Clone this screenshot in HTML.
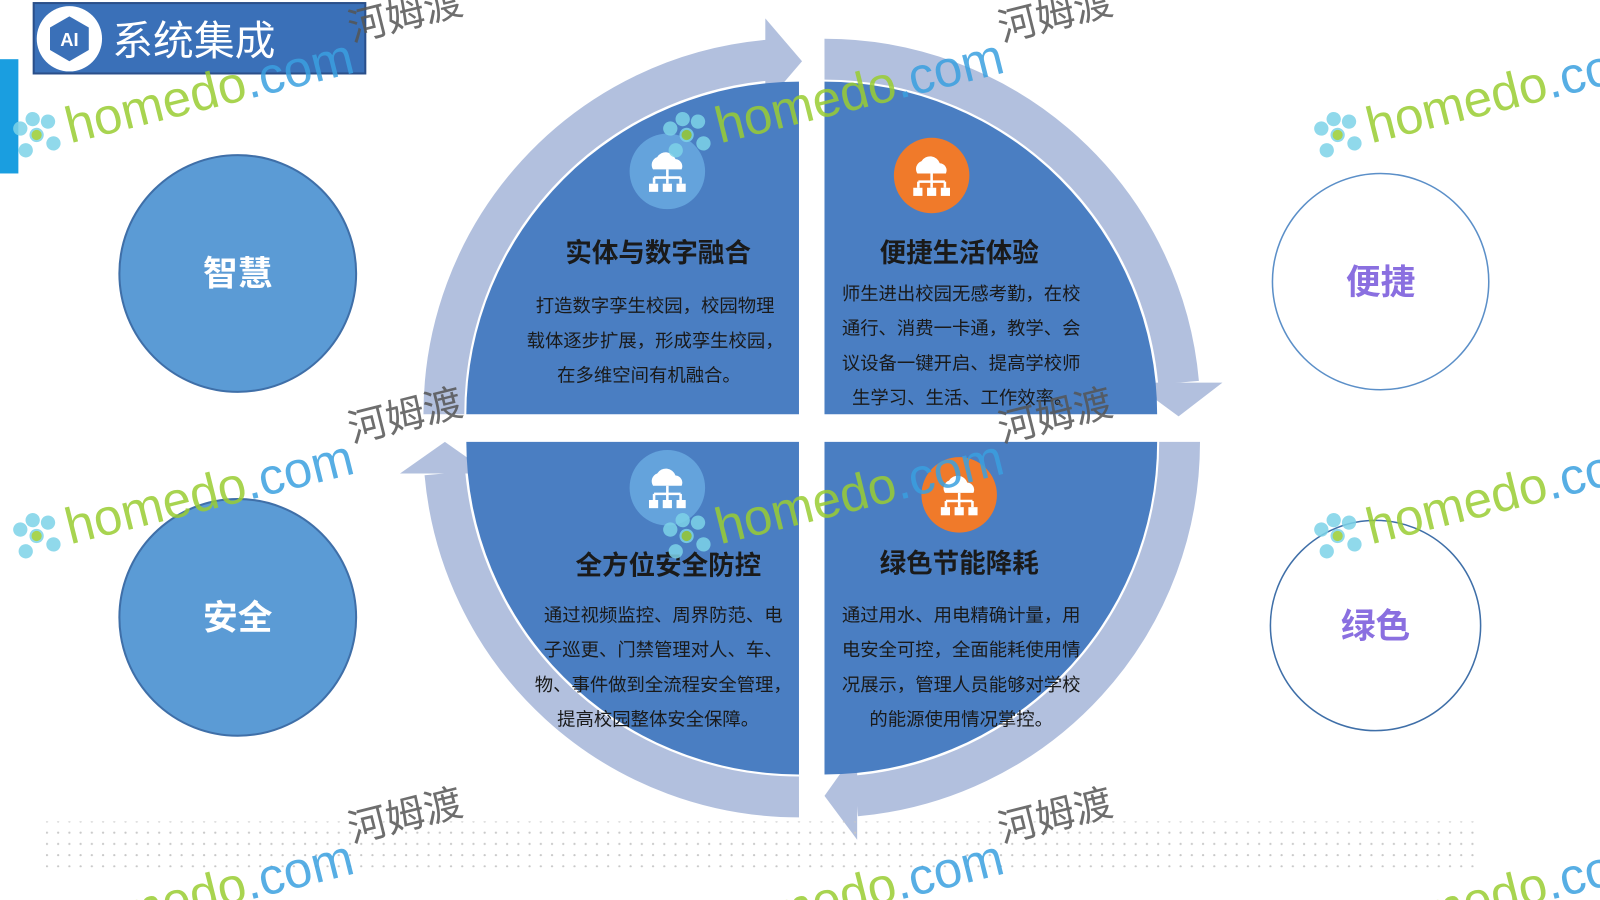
<!DOCTYPE html>
<html><head><meta charset="utf-8"><style>
html,body{margin:0;padding:0;background:#fff;width:1600px;height:900px;overflow:hidden;}
svg{display:block;}
text{font-family:"Liberation Sans","Noto Sans CJK SC",sans-serif;}
</style></head><body>
<svg width="1600" height="900" viewBox="0 0 1568 882" preserveAspectRatio="none" xmlns="http://www.w3.org/2000/svg">
<defs>
<pattern id="dots" x="0" y="0" width="11" height="11" patternUnits="userSpaceOnUse"><circle cx="2" cy="2" r="1.1" fill="#c8c8c8"/></pattern>
<g id="icon">
<path d="M-14,-2 a8,8 0 0 1 4,-12 a10,10 0 0 1 18,2 a7,7 0 0 1 6,10 z" fill="#fff"/>
<path d="M0,-2 v8 M-13,6 h26 M-13,6 v6 M0,6 v6 M13,6 v6" stroke="#fff" stroke-width="2.5" fill="none"/>
<rect x="-18" y="12" width="9" height="8" fill="#fff"/><rect x="-4.5" y="12" width="9" height="8" fill="#fff"/><rect x="9" y="12" width="9" height="8" fill="#fff"/>
</g>
<g id="wm" opacity="0.85">
<g fill="#7dd3e8"><circle cx="-30" cy="0" r="7"/><circle cx="-16" cy="-10" r="7"/><circle cx="-44" cy="-10" r="7"/><circle cx="-16" cy="12" r="7"/><circle cx="-44" cy="12" r="7"/><circle cx="-30" cy="-16" r="7"/></g>
<circle cx="-30" cy="0" r="5" fill="#9acd32"/>
<text x="0" y="16" font-size="50"><tspan fill="#9acd32">homedo</tspan><tspan fill="#3aa0e0">.com</tspan></text>
<text x="292" y="-14" font-size="38" fill="#555">河姆渡</text>
</g>
</defs>
<rect x="0" y="58" width="18" height="112" fill="#1a9ee0"/>
<rect x="33" y="3" width="325" height="69" fill="#3a70b8" stroke="#2a4f8a" stroke-width="2"/>
<circle cx="68" cy="38" r="32" fill="#fff"/>
<polygon points="68,16 87,27 87,49 68,60 49,49 49,27" fill="#3a70b8"/>
<text x="68" y="45" font-size="18" font-weight="bold" fill="#fff" text-anchor="middle">AI</text>
<text x="110" y="54" font-size="40" fill="#fff">系统集成</text>

<circle cx="233" cy="268" r="116" fill="#5b9bd5" stroke="#3f6fa8" stroke-width="2"/>
<text x="233" y="280" font-size="34" font-weight="bold" fill="#fff" text-anchor="middle">智慧</text>
<circle cx="233" cy="605" r="116" fill="#5b9bd5" stroke="#3f6fa8" stroke-width="2"/>
<text x="233" y="617" font-size="34" font-weight="bold" fill="#fff" text-anchor="middle">安全</text>
<circle cx="1353" cy="276" r="106" fill="#fff" stroke="#5b8fc8" stroke-width="1.5"/>
<text x="1353" y="288" font-size="34" font-weight="bold" fill="#8a6fe0" text-anchor="middle">便捷</text>
<circle cx="1348" cy="613" r="103" fill="#fff" stroke="#3f6fa8" stroke-width="1.5"/>
<text x="1348" y="625" font-size="34" font-weight="bold" fill="#8a6fe0" text-anchor="middle">绿色</text>

<g fill="none" stroke="#b2c0de" stroke-width="40">
<path d="M435,406 A348,348 0 0 1 752,59"/>
<path d="M808,58 A348,348 0 0 1 1155,375"/>
<path d="M1156,433 A348,348 0 0 1 839,780"/>
<path d="M783,781 A348,348 0 0 1 436,464"/>
</g>
<g fill="#b2c0de">
<polygon points="750,18 786,60 750,102"/>
<polygon points="1110,375 1198,375 1155,408"/>
<polygon points="840,735 840,823 808,780"/>
<polygon points="392,464 480,464 436,433"/>
</g>
<g fill="#4a7ec2">
<path d="M783,406 L457,406 A326,326 0 0 1 783,80 Z"/>
<path d="M808,406 L808,80 A326,326 0 0 1 1134,406 Z"/>
<path d="M808,433 L1134,433 A326,326 0 0 1 808,759 Z"/>
<path d="M783,433 L783,759 A326,326 0 0 1 457,433 Z"/>
</g>
<circle cx="654" cy="168" r="37" fill="#64a3dc"/><use href="#icon" x="654" y="168"/>
<circle cx="913" cy="172" r="37" fill="#f07a2a"/><use href="#icon" x="913" y="172"/>
<circle cx="654" cy="478" r="37" fill="#64a3dc"/><use href="#icon" x="654" y="478"/>
<circle cx="940" cy="485" r="37" fill="#f07a2a"/><use href="#icon" x="940" y="485"/>

<g fill="#1a1a1a">
<text x="645" y="257" font-size="26" font-weight="bold" text-anchor="middle">实体与数字融合</text>
<g font-size="18" text-anchor="middle">
<text x="642" y="306">打造数字孪生校园，校园物理</text>
<text x="642" y="340">载体逐步扩展，形成孪生校园，</text>
<text x="636" y="374">在多维空间有机融合。</text>
</g>
<text x="940" y="257" font-size="26" font-weight="bold" text-anchor="middle">便捷生活体验</text>
<g font-size="18">
<text x="825" y="294">师生进出校园无感考勤，在校</text>
<text x="825" y="328">通行、消费一卡通，教学、会</text>
<text x="825" y="362">议设备一键开启、提高学校师</text>
<text x="835" y="396">生学习、生活、工作效率。</text>
</g>
<text x="655" y="563" font-size="26" font-weight="bold" text-anchor="middle">全方位安全防控</text>
<g font-size="18" text-anchor="middle">
<text x="650" y="609">通过视频监控、周界防范、电</text>
<text x="650" y="643">子巡更、门禁管理对人、车、</text>
<text x="650" y="677">物、事件做到全流程安全管理，</text>
<text x="645" y="711">提高校园整体安全保障。</text>
</g>
<text x="940" y="561" font-size="26" font-weight="bold" text-anchor="middle">绿色节能降耗</text>
<g font-size="18">
<text x="825" y="609">通过用水、用电精确计量，用</text>
<text x="825" y="643">电安全可控，全面能耗使用情</text>
<text x="825" y="677">况展示，管理人员能够对学校</text>
<text x="852" y="711">的能源使用情况掌控。</text>
</g>
</g>

<rect x="45" y="805" width="1405" height="45" fill="url(#dots)"/>

<use href="#wm" transform="translate(65,125) rotate(-14)"/>
<use href="#wm" transform="translate(702,125) rotate(-14)"/>
<use href="#wm" transform="translate(1340,125) rotate(-14)"/>
<use href="#wm" transform="translate(65,518) rotate(-14)"/>
<use href="#wm" transform="translate(702,518) rotate(-14)"/>
<use href="#wm" transform="translate(1340,518) rotate(-14)"/>
<use href="#wm" transform="translate(65,910) rotate(-14)"/>
<use href="#wm" transform="translate(702,910) rotate(-14)"/>
<use href="#wm" transform="translate(1340,910) rotate(-14)"/>
</svg>
</body></html>
